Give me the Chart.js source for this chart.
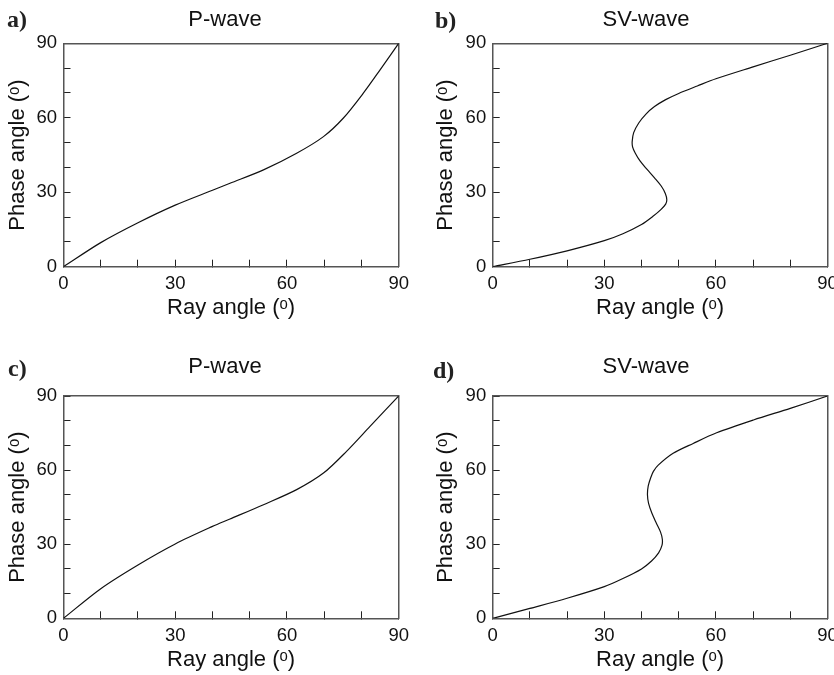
<!DOCTYPE html>
<html lang="en">
<head>
<meta charset="UTF-8">
<title>Phase angle vs ray angle</title>
<style>
  html, body { margin: 0; padding: 0; background: #fff; overflow: hidden; }
  body { width: 834px; height: 675px; position: relative; }
  .panel { position: absolute; width: 450px; }
  .tag { position: absolute; font: bold 24px "Liberation Serif", "Times New Roman", serif; line-height: 24px; color: #222; }
</style>
</head>
<body>
<div class="panel" style="left:0;top:0;height:340px"><canvas id="a"></canvas></div>
<div class="panel" style="left:421px;top:0;height:340px"><canvas id="b"></canvas></div>
<div class="panel" style="left:0;top:340px;height:335px"><canvas id="c"></canvas></div>
<div class="panel" style="left:421px;top:340px;height:335px"><canvas id="d"></canvas></div>
<div class="tag" style="left:7px;top:7px">a)</div>
<div class="tag" style="left:435px;top:8px">b)</div>
<div class="tag" style="left:8px;top:356px">c)</div>
<div class="tag" style="left:433px;top:358px">d)</div>

<script src="https://cdn.jsdelivr.net/npm/chart.js@4.4.1/dist/chart.umd.min.js"></script>
<script>
// values: ray angle (x) and phase angle (y), degrees
const rayA   = [0, 10, 20, 30, 40, 44.7, 53.7, 62.6, 69.8, 75.1, 80.5, 85, 90];
const phaseA = [0, 9.7, 17.7, 24.8, 30.8, 33.6, 39, 45.7, 52.4, 59.8, 69.9, 79.3, 90];

const rayB   = [0, 10, 20, 30, 35, 40, 43, 45.2, 46.5, 46.8, 46.4, 45.3, 43.5, 41.5, 39.6, 38.3, 37.6, 37.5,
                37.9, 39.3, 41.2, 43.5, 46.5, 50, 55, 60, 70, 80, 90];
const phaseB = [0, 3, 6.4, 10.5, 13.3, 17, 20.2, 23, 25.2, 27, 29.5, 32.5, 35.8, 39.2, 42.6, 45.8, 48.3, 50.5,
                54, 58, 61.5, 64.5, 67.3, 69.8, 72.8, 75.7, 80.5, 85.2, 90];

const rayC   = [0, 10, 20, 30, 40, 44.7, 53.7, 62.6, 69.8, 76, 82.3, 90];
const phaseC = [0, 12, 21.6, 30.1, 37.2, 40.2, 46, 52.1, 58.8, 67.6, 77.7, 90];

const rayD   = [0, 10, 20, 30, 35, 40, 42.7, 44.6, 45.5, 45.6, 45.1, 44, 42.8, 41.9, 41.6, 41.8, 42.5, 43.2,
                44.5, 48.5, 53.9, 60.2, 70.1, 80, 90];
const phaseD = [0, 4, 8.1, 12.8, 16.1, 20, 23.2, 26.5, 29.5, 32, 35, 38.5, 42.5, 46.5, 50, 53.5, 57, 59.5,
                62, 66.8, 70.8, 75.1, 80.3, 85, 90];

const axisMin = 0, axisMax = 90, tickStep = 10, labelStep = 30;
const xTitle = "Ray angle (\u1d52)";
const yTitle = "Phase angle (\u1d52)";

const sans = "'Liberation Sans', Arial, Helvetica, sans-serif";
const frameColor = "#555";
const inkColor = "#111";

function makePanel(id, title, ray, phase, box) {
  const W = 450, H = box.height;
  const labelCb = v => (v % labelStep === 0 ? String(v) : "");
  new Chart(document.getElementById(id), {
    type: "scatter",
    data: {
      datasets: [{
        data: ray.map((r, i) => ({ x: r, y: phase[i] })),
        showLine: true,
        borderColor: inkColor,
        borderWidth: 1.2,
        pointRadius: 0,
        tension: 0.3,
        fill: false,
      }],
    },
    options: {
      responsive: true,
      maintainAspectRatio: false,
      animation: false,
      layout: { padding: 0 },
      plugins: {
        legend: { display: false },
        tooltip: { enabled: false },
        title: {
          display: true,
          text: title,
          color: inkColor,
          font: { family: sans, size: 22, weight: "normal", lineHeight: 1 },
          padding: { top: box.titleMid - 11, bottom: 4 },
        },
      },
      scales: {
        x: {
          type: "linear", position: "bottom", min: axisMin, max: axisMax,
          ticks: { stepSize: tickStep, autoSkip: false, maxRotation: 0, padding: 13.5,
                   color: inkColor, font: { family: sans, size: 18.5 }, callback: labelCb },
          grid: { drawOnChartArea: false, drawTicks: true, tickLength: -7, tickColor: "#222", tickWidth: 1 },
          border: { display: true, color: frameColor, width: 1.5 },
          title: { display: true, text: xTitle, color: inkColor,
                   font: { family: sans, size: 22, lineHeight: 1 },
                   padding: { top: 0, bottom: H - box.xTitleMid - 11 } },
          afterFit: s => { s.height = H - box.bottom; s.paddingLeft = 0; s.paddingRight = 0; },
        },
        y: {
          type: "linear", position: "left", min: axisMin, max: axisMax,
          ticks: { stepSize: tickStep, autoSkip: false, padding: 13.5,
                   color: inkColor, font: { family: sans, size: 18.5 }, callback: labelCb },
          grid: { drawOnChartArea: false, drawTicks: true, tickLength: -7, tickColor: "#222", tickWidth: 1 },
          border: { display: true, color: frameColor, width: 1.5 },
          title: { display: true, text: yTitle, color: inkColor,
                   font: { family: sans, size: 22, lineHeight: 1 },
                   padding: { top: box.yTitleMid - 11, bottom: 0 } },
          afterFit: s => { s.width = box.left; },
        },
        x2: {
          type: "linear", position: "top", min: axisMin, max: axisMax,
          ticks: { display: false },
          grid: { drawOnChartArea: false, drawTicks: false },
          border: { display: true, color: frameColor, width: 1.5 },
          afterFit: s => { s.height = box.top - (box.titleMid + 15); },
        },
        y2: {
          type: "linear", position: "right", min: axisMin, max: axisMax,
          ticks: { display: false },
          grid: { drawOnChartArea: false, drawTicks: false },
          border: { display: true, color: frameColor, width: 1.5 },
          afterFit: s => { s.width = W - box.right; },
        },
      },
    },
  });
}

makePanel("a", "P-wave", rayA, phaseA,
  { height: 340, left: 63.5, right: 398.7, top: 43.3, bottom: 266.7, titleMid: 19.5, xTitleMid: 307.5, yTitleMid: 17.5 });
makePanel("b", "SV-wave", rayB, phaseB,
  { height: 340, left: 71.7, right: 406.5, top: 43.3, bottom: 266.7, titleMid: 19.5, xTitleMid: 308, yTitleMid: 24.8 });
makePanel("c", "P-wave", rayC, phaseC,
  { height: 335, left: 63.5, right: 398.7, top: 56, bottom: 278.3, titleMid: 27, xTitleMid: 319.7, yTitleMid: 17.5 });
makePanel("d", "SV-wave", rayD, phaseD,
  { height: 335, left: 71.7, right: 406.5, top: 56, bottom: 278.3, titleMid: 26.7, xTitleMid: 319.7, yTitleMid: 24.8 });
</script>
</body>
</html>
